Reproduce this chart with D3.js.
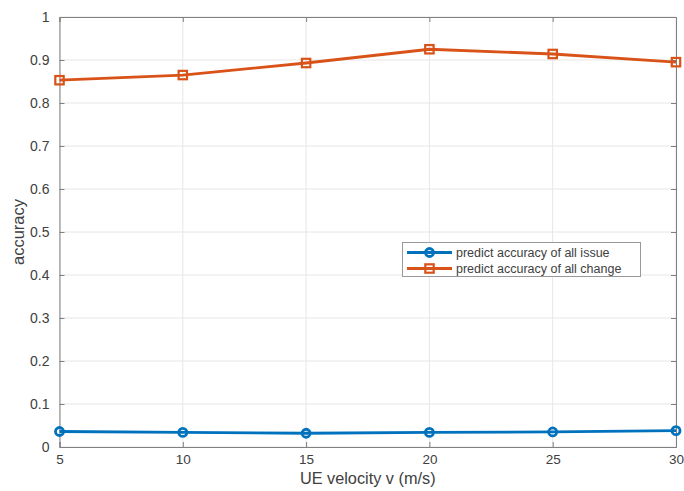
<!DOCTYPE html>
<html><head><meta charset="utf-8">
<script src="https://cdn.jsdelivr.net/npm/d3@7"></script>
<style>body{margin:0;background:#fff;} text{font-family:"Liberation Sans",Arial,sans-serif;}</style>
</head><body><svg id="c" width="684" height="491"></svg>
<script>
const velocities = [5, 10, 15, 20, 25, 30];
const issueAccuracy = [0.036, 0.034, 0.032, 0.034, 0.035, 0.038];
const changeAccuracy = [0.853, 0.865, 0.893, 0.925, 0.914, 0.895];
const xTicks = [5, 10, 15, 20, 25, 30];
const yTicks = [0, 0.1, 0.2, 0.3, 0.4, 0.5, 0.6, 0.7, 0.8, 0.9, 1];
const seriesNames = ["predict accuracy of all issue", "predict accuracy of all change"];

const svg = d3.select("#c");
const L = 59.5, R = 676, T = 17, B = 447;
const x = d3.scaleLinear().domain([5, 30]).range([L, R]);
const y = d3.scaleLinear().domain([0, 1]).range([B, T]);
const axisCol = "#808080", textCol = "#404040";

// grid
svg.append("g").selectAll("line").data(xTicks).join("line")
  .attr("x1", d => x(d)).attr("x2", d => x(d)).attr("y1", T).attr("y2", B)
  .attr("stroke", "#e6e6e6").attr("stroke-width", 1);
svg.append("g").selectAll("line").data(yTicks).join("line")
  .attr("x1", L).attr("x2", R).attr("y1", d => y(d)).attr("y2", d => y(d))
  .attr("stroke", "#e6e6e6").attr("stroke-width", 1);

// axes
const xa = svg.append("g").attr("transform", `translate(0,${B})`)
  .call(d3.axisBottom(x).tickValues(xTicks).tickSize(-5).tickPadding(7).tickFormat(d3.format("d")));
const ya = svg.append("g").attr("transform", `translate(${L},0)`)
  .call(d3.axisLeft(y).tickValues(yTicks).tickSize(-5).tickPadding(10).tickFormat(d => d === 0 ? "0" : d === 1 ? "1" : d3.format(".1f")(d)));
const xt = svg.append("g").attr("transform", `translate(0,${T})`)
  .call(d3.axisTop(x).tickValues(xTicks).tickSize(-5).tickFormat(""));
const yr = svg.append("g").attr("transform", `translate(${R},0)`)
  .call(d3.axisRight(y).tickValues(yTicks).tickSize(-5).tickFormat(""));
[xa, ya, xt, yr].forEach(g => {
  g.select(".domain").attr("stroke", axisCol);
  g.selectAll(".tick line").attr("stroke", axisCol);
  g.selectAll(".tick text").attr("fill", textCol).style("font-size", "14px");
});
xa.selectAll(".tick text").style("font-size", "13.5px");

// lines
const series = [
  {vals: issueAccuracy, color: "#0072BD", marker: "circle"},
  {vals: changeAccuracy, color: "#D95319", marker: "square"}
];
const line = d3.line().x((d, i) => x(velocities[i])).y(d => y(d));
function marker(g, s, cx, cy) {
  if (s.marker === "circle")
    g.append("circle").attr("cx", cx).attr("cy", cy).attr("r", 4)
      .attr("fill", "none").attr("stroke", s.color).attr("stroke-width", 2.8);
  else
    g.append("rect").attr("x", cx - 4.2).attr("y", cy - 4.2).attr("width", 8.4).attr("height", 8.4)
      .attr("fill", "none").attr("stroke", s.color).attr("stroke-width", 2.2);
}
series.forEach(s => {
  svg.append("path").datum(s.vals).attr("d", line).attr("fill", "none")
    .attr("stroke", s.color).attr("stroke-width", 2.8);
  const g = svg.append("g");
  s.vals.forEach((v, i) => marker(g, s, x(velocities[i]), y(v)));
});

// labels
svg.append("text").attr("x", (L + R) / 2).attr("y", 484).attr("text-anchor", "middle")
  .attr("fill", textCol).style("font-size", "16.3px").text("UE velocity v (m/s)");
svg.append("text").attr("transform", `translate(24,${(T + B) / 2}) rotate(-90)`).attr("text-anchor", "middle")
  .attr("fill", textCol).style("font-size", "16.5px").text("accuracy");

// legend
const lg = svg.append("g");
lg.append("rect").attr("x", 402.5).attr("y", 242.5).attr("width", 238).attr("height", 34)
  .attr("fill", "#fff").attr("stroke", "#999").attr("stroke-width", 1);
series.forEach((s, i) => {
  const cy = 252.5 + i * 16;
  lg.append("line").attr("x1", 407).attr("x2", 452).attr("y1", cy).attr("y2", cy)
    .attr("stroke", s.color).attr("stroke-width", 2.8);
  marker(lg, s, 429.5, cy);
  lg.append("text").attr("x", 456).attr("y", cy + 4.5).attr("fill", textCol).style("font-size", "12.5px").text(seriesNames[i]);
});
</script></body></html>
